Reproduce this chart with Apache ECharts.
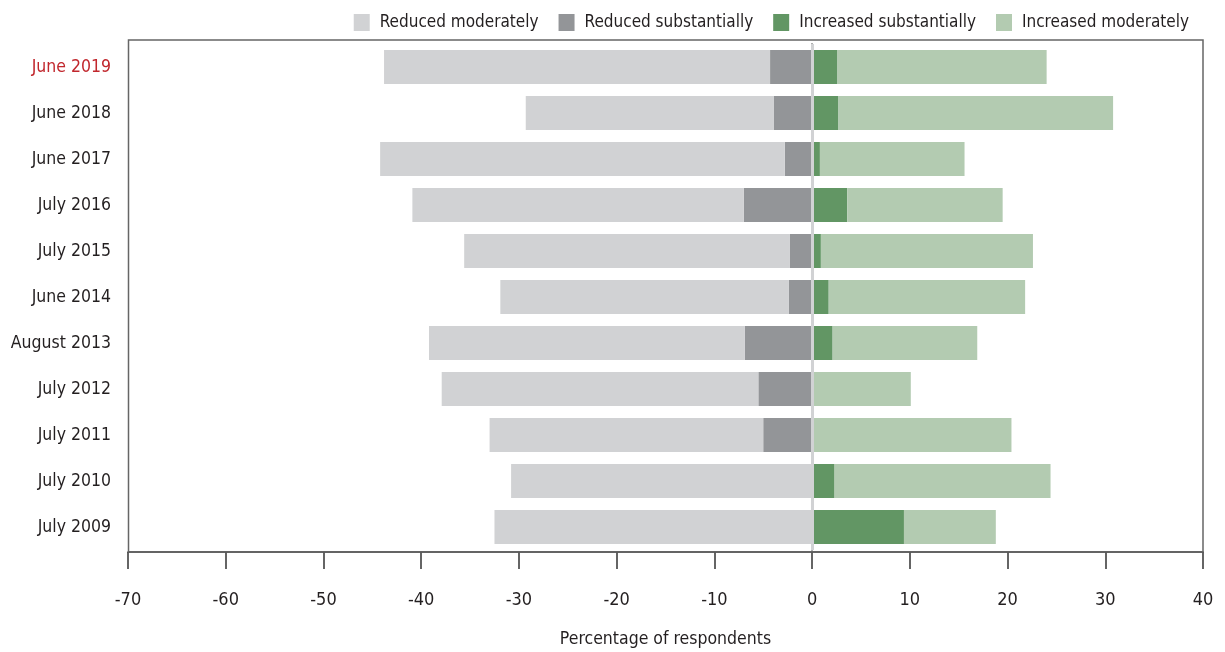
<!DOCTYPE html>
<html>
<head>
<meta charset="utf-8">
<script src="https://cdn.jsdelivr.net/npm/echarts@6/dist/echarts.min.js"></script>
<style>
html,body{margin:0;padding:0;background:#fff;}
#chart{width:1225px;height:652px;}
</style>
</head>
<body>
<div id="chart"></div>
<script>
const categories = ['June 2019','June 2018','June 2017','July 2016','July 2015','June 2014','August 2013','July 2012','July 2011','July 2010','July 2009'];
const reducedSubstantially = [-4.3,-3.9,-2.8,-7.0,-2.3,-2.4,-6.9,-5.5,-5.0,0,0];
const reducedModerately = [-39.5,-25.4,-41.4,-33.9,-33.3,-29.5,-32.3,-32.4,-28.0,-30.8,-32.5];
const increasedSubstantially = [2.6,2.7,0.8,3.6,0.9,1.7,2.1,0,0,2.3,9.4];
const increasedModerately = [21.4,28.1,14.8,15.9,21.7,20.1,14.8,10.1,20.4,22.1,9.4];
const xTicks = {min:-70, max:40, interval:10};

const FONT = "'DejaVu Sans Condensed','Liberation Sans',sans-serif";
const FS = 17.5;
const GL = 128, GR = 22, GT = 44, GH = 506;
const chart = echarts.init(document.getElementById('chart'));
const colors = {rm:'#d1d2d4', rs:'#939598', is:'#629664', im:'#b3cbb1'};

chart.setOption({
  animation:false,
  textStyle:{fontFamily:FONT},
  grid:{left:GL, right:GR, top:GT, height:GH, containLabel:false, outerBoundsMode:'none'},
  legend:{
    data:['Reduced moderately','Reduced substantially','Increased substantially','Increased moderately'],
    right:31, top:9, itemWidth:16, itemHeight:17, itemGap:20,
    icon:'rect',
    textStyle:{fontFamily:FONT, fontSize:17, color:'#231f20', padding:[0,0,0,5]}
  },
  graphic:[{
    type:'rect', z:1, silent:true,
    shape:{x:GL+0.5, y:GT-4, width:1225-GL-GR-0.5, height:GH+6},
    style:{fill:'none', stroke:'#666', lineWidth:1.5}
  }],
  xAxis:{
    type:'value', min:xTicks.min, max:xTicks.max, interval:xTicks.interval,
    offset:2,
    axisLine:{show:true, lineStyle:{color:'#333', width:1.5}},
    axisTick:{show:true, length:17, lineStyle:{color:'#333', width:1.5}},
    splitLine:{show:false},
    axisLabel:{fontFamily:FONT, fontSize:18, color:'#231f20', margin:39},
    name:'Percentage of respondents', nameLocation:'middle', nameGap:78,
    nameTextStyle:{fontFamily:FONT, fontSize:FS, color:'#231f20'}
  },
  yAxis:{
    type:'category', data:categories, inverse:true,
    axisLine:{show:true, lineStyle:{color:'#333', width:1.5}},
    axisTick:{show:false},
    axisLabel:{fontFamily:FONT, fontSize:FS, margin:17,
      color:(v, i) => i === 0 ? '#c1272d' : '#231f20'}
  },
  series:[
    {name:'Reduced substantially', type:'bar', stack:'s', data:reducedSubstantially, barWidth:34, itemStyle:{color:colors.rs},
     markLine:{silent:true, symbol:'none', label:{show:false}, z:10, lineStyle:{color:'#d1d2d4', width:3, type:'solid'}, data:[{xAxis:0}]}},
    {name:'Reduced moderately', type:'bar', stack:'s', data:reducedModerately, barWidth:34, itemStyle:{color:colors.rm}},
    {name:'Increased substantially', type:'bar', stack:'s', data:increasedSubstantially, barWidth:34, itemStyle:{color:colors.is}},
    {name:'Increased moderately', type:'bar', stack:'s', data:increasedModerately, barWidth:34, itemStyle:{color:colors.im}}
  ]
});
</script>
</body>
</html>
